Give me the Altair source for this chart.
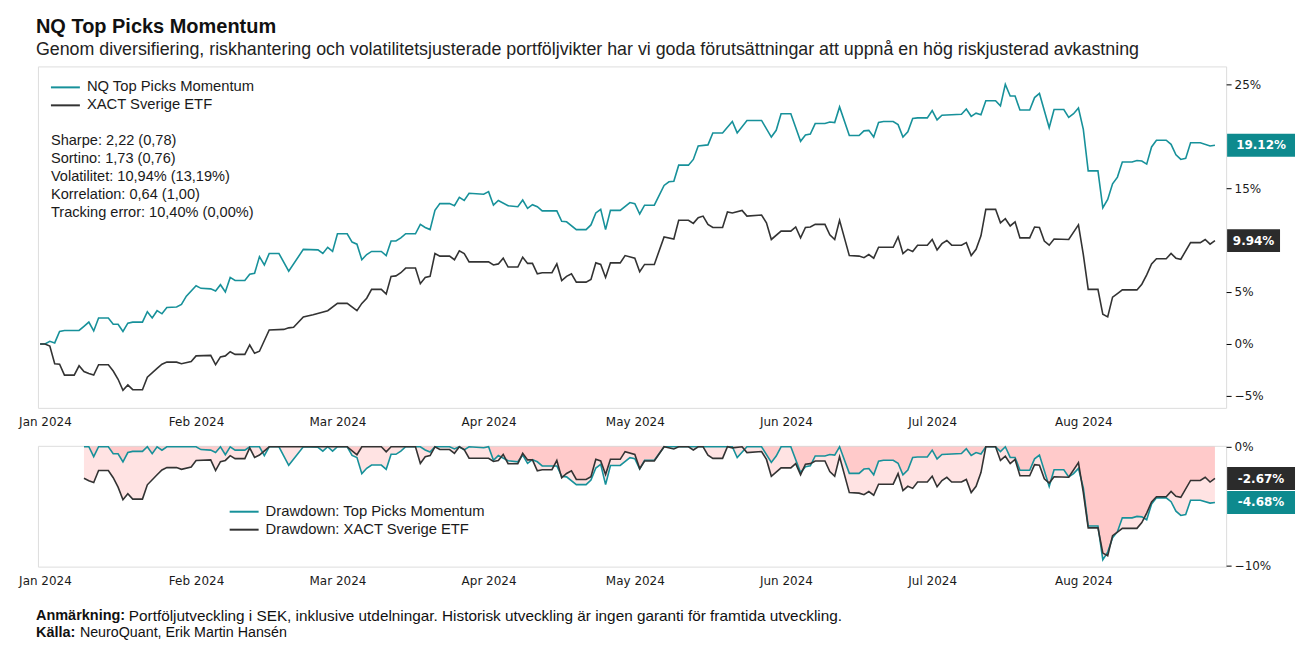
import altair as alt
import pandas as pd

# ---------------- data ----------------
TP_NAME = "NQ Top Picks Momentum"
XACT_NAME = "XACT Sverige ETF"
DD_TP_NAME = "Drawdown: Top Picks Momentum"
DD_XACT_NAME = "Drawdown: XACT Sverige ETF"

TP_DATES = ["2023-12-31", "2024-01-01", "2024-01-02", "2024-01-03", "2024-01-04", "2024-01-05", "2024-01-08", "2024-01-09", "2024-01-10", "2024-01-11", "2024-01-12", "2024-01-14", "2024-01-15", "2024-01-16", "2024-01-17", "2024-01-18", "2024-01-19", "2024-01-21", "2024-01-22", "2024-01-23", "2024-01-24", "2024-01-25", "2024-01-26", "2024-01-28", "2024-01-29", "2024-01-30", "2024-02-01", "2024-02-02", "2024-02-04", "2024-02-05", "2024-02-06", "2024-02-07", "2024-02-08", "2024-02-09", "2024-02-11", "2024-02-12", "2024-02-13", "2024-02-14", "2024-02-15", "2024-02-16", "2024-02-18", "2024-02-20", "2024-02-23", "2024-02-26", "2024-02-27", "2024-02-28", "2024-02-29", "2024-03-01", "2024-03-03", "2024-03-04", "2024-03-05", "2024-03-06", "2024-03-07", "2024-03-08", "2024-03-10", "2024-03-11", "2024-03-12", "2024-03-13", "2024-03-14", "2024-03-15", "2024-03-17", "2024-03-18", "2024-03-19", "2024-03-20", "2024-03-21", "2024-03-22", "2024-03-24", "2024-03-25", "2024-03-26", "2024-03-27", "2024-03-28", "2024-03-31", "2024-04-01", "2024-04-02", "2024-04-03", "2024-04-05", "2024-04-07", "2024-04-08", "2024-04-09", "2024-04-10", "2024-04-11", "2024-04-12", "2024-04-15", "2024-04-16", "2024-04-17", "2024-04-19", "2024-04-21", "2024-04-22", "2024-04-23", "2024-04-24", "2024-04-25", "2024-04-26", "2024-04-28", "2024-04-30", "2024-05-01", "2024-05-02", "2024-05-03", "2024-05-05", "2024-05-07", "2024-05-08", "2024-05-09", "2024-05-10", "2024-05-12", "2024-05-13", "2024-05-14", "2024-05-16", "2024-05-17", "2024-05-19", "2024-05-21", "2024-05-22", "2024-05-24", "2024-05-27", "2024-05-29", "2024-05-30", "2024-05-31", "2024-06-02", "2024-06-04", "2024-06-05", "2024-06-06", "2024-06-07", "2024-06-09", "2024-06-10", "2024-06-11", "2024-06-12", "2024-06-14", "2024-06-16", "2024-06-17", "2024-06-18", "2024-06-19", "2024-06-20", "2024-06-21", "2024-06-23", "2024-06-24", "2024-06-25", "2024-06-26", "2024-06-27", "2024-06-28", "2024-06-30", "2024-07-01", "2024-07-02", "2024-07-03", "2024-07-07", "2024-07-08", "2024-07-09", "2024-07-10", "2024-07-11", "2024-07-12", "2024-07-14", "2024-07-15", "2024-07-16", "2024-07-17", "2024-07-18", "2024-07-19", "2024-07-21", "2024-07-22", "2024-07-23", "2024-07-25", "2024-07-26", "2024-07-28", "2024-07-29", "2024-07-30", "2024-07-31", "2024-08-01", "2024-08-02", "2024-08-04", "2024-08-05", "2024-08-06", "2024-08-07", "2024-08-08", "2024-08-09", "2024-08-11", "2024-08-12", "2024-08-13", "2024-08-14", "2024-08-15", "2024-08-16", "2024-08-18", "2024-08-19", "2024-08-20", "2024-08-21", "2024-08-22", "2024-08-23", "2024-08-25", "2024-08-27", "2024-08-28"]
TP_VALUES = [0.0, 0.0, 0.25, 0.1, 1.2, 1.3, 1.3, 1.7, 2.1, 1.25, 2.5, 2.5, 1.9, 1.9, 1.2, 2.0, 2.1, 2.1, 3.1, 2.5, 3.2, 2.9, 3.5, 3.55, 3.8, 4.6, 5.6, 5.35, 5.3, 5.1, 5.7, 5.0, 6.4, 6.1, 6.1, 6.7, 6.8, 8.4, 7.6, 8.7, 8.7, 7.0, 9.1, 9.05, 8.7, 9.3, 8.9, 10.6, 10.6, 9.8, 9.6, 8.1, 8.6, 8.9, 8.9, 8.5, 9.9, 9.9, 10.2, 10.6, 10.6, 11.5, 11.2, 11.0, 12.85, 13.5, 13.5, 13.3, 14.1, 13.8, 14.5, 14.4, 14.65, 13.35, 13.8, 13.3, 13.2, 13.85, 13.05, 13.4, 13.2, 12.8, 12.8, 11.8, 11.75, 11.0, 11.0, 11.45, 12.6, 12.95, 11.0, 12.85, 12.85, 13.6, 13.5, 12.5, 13.35, 13.35, 15.25, 15.6, 15.65, 17.2, 17.2, 17.75, 19.05, 19.15, 20.3, 20.3, 21.4, 20.3, 21.5, 21.5, 19.9, 20.55, 22.15, 22.15, 19.5, 20.1, 20.2, 21.2, 21.2, 21.35, 21.3, 22.8, 20.05, 20.05, 20.5, 20.55, 19.9, 21.3, 21.4, 21.4, 21.1, 19.9, 20.4, 21.7, 21.75, 21.75, 22.45, 21.55, 22.0, 22.1, 22.6, 21.9, 22.2, 22.05, 23.4, 23.4, 22.9, 24.97, 23.85, 23.85, 22.5, 22.5, 23.7, 24.1, 20.8, 22.55, 22.55, 21.8, 22.15, 22.7, 20.65, 16.65, 16.65, 13.1, 13.9, 15.4, 16.05, 17.5, 17.5, 17.65, 17.6, 17.3, 18.95, 19.6, 19.6, 19.2, 18.2, 17.75, 17.85, 19.35, 19.35, 19.05, 19.12]

XACT_DATES = ["2023-12-31", "2024-01-01", "2024-01-02", "2024-01-03", "2024-01-04", "2024-01-05", "2024-01-07", "2024-01-08", "2024-01-09", "2024-01-10", "2024-01-11", "2024-01-12", "2024-01-14", "2024-01-15", "2024-01-16", "2024-01-17", "2024-01-18", "2024-01-19", "2024-01-21", "2024-01-22", "2024-01-24", "2024-01-25", "2024-01-26", "2024-01-28", "2024-01-29", "2024-01-31", "2024-02-01", "2024-02-04", "2024-02-05", "2024-02-06", "2024-02-07", "2024-02-08", "2024-02-09", "2024-02-11", "2024-02-12", "2024-02-13", "2024-02-14", "2024-02-16", "2024-02-19", "2024-02-20", "2024-02-21", "2024-02-23", "2024-02-25", "2024-02-28", "2024-03-01", "2024-03-03", "2024-03-05", "2024-03-06", "2024-03-07", "2024-03-08", "2024-03-10", "2024-03-11", "2024-03-12", "2024-03-13", "2024-03-14", "2024-03-15", "2024-03-17", "2024-03-18", "2024-03-19", "2024-03-20", "2024-03-21", "2024-03-22", "2024-03-24", "2024-03-25", "2024-03-26", "2024-03-27", "2024-03-28", "2024-04-01", "2024-04-02", "2024-04-03", "2024-04-04", "2024-04-05", "2024-04-07", "2024-04-08", "2024-04-09", "2024-04-10", "2024-04-11", "2024-04-12", "2024-04-14", "2024-04-15", "2024-04-16", "2024-04-17", "2024-04-18", "2024-04-19", "2024-04-21", "2024-04-22", "2024-04-23", "2024-04-24", "2024-04-25", "2024-04-26", "2024-04-28", "2024-04-29", "2024-05-01", "2024-05-02", "2024-05-03", "2024-05-05", "2024-05-07", "2024-05-09", "2024-05-10", "2024-05-12", "2024-05-13", "2024-05-14", "2024-05-15", "2024-05-16", "2024-05-17", "2024-05-19", "2024-05-20", "2024-05-21", "2024-05-23", "2024-05-24", "2024-05-27", "2024-05-28", "2024-05-29", "2024-05-31", "2024-06-02", "2024-06-03", "2024-06-04", "2024-06-05", "2024-06-06", "2024-06-07", "2024-06-09", "2024-06-10", "2024-06-11", "2024-06-12", "2024-06-14", "2024-06-16", "2024-06-17", "2024-06-18", "2024-06-19", "2024-06-20", "2024-06-23", "2024-06-24", "2024-06-25", "2024-06-26", "2024-06-27", "2024-06-28", "2024-06-30", "2024-07-01", "2024-07-02", "2024-07-03", "2024-07-04", "2024-07-05", "2024-07-07", "2024-07-08", "2024-07-09", "2024-07-10", "2024-07-11", "2024-07-12", "2024-07-14", "2024-07-15", "2024-07-16", "2024-07-17", "2024-07-18", "2024-07-19", "2024-07-21", "2024-07-22", "2024-07-23", "2024-07-24", "2024-07-25", "2024-07-26", "2024-07-29", "2024-07-31", "2024-08-01", "2024-08-02", "2024-08-04", "2024-08-05", "2024-08-06", "2024-08-07", "2024-08-08", "2024-08-09", "2024-08-12", "2024-08-13", "2024-08-14", "2024-08-15", "2024-08-16", "2024-08-18", "2024-08-19", "2024-08-20", "2024-08-21", "2024-08-23", "2024-08-25", "2024-08-26", "2024-08-27", "2024-08-28"]
XACT_VALUES = [0.0, 0.0, -0.2, -1.9, -1.95, -3.0, -3.0, -2.1, -2.65, -2.85, -3.0, -2.0, -2.0, -2.6, -3.4, -4.45, -3.95, -4.4, -4.4, -3.2, -2.35, -1.95, -1.75, -1.75, -1.9, -1.7, -1.15, -1.1, -2.0, -1.25, -1.15, -0.75, -1.0, -1.0, -0.1, -0.9, -0.7, 1.35, 1.4, 1.55, 1.6, 2.6, 2.8, 3.2, 3.9, 3.9, 3.2, 3.9, 4.4, 5.25, 5.25, 4.8, 6.5, 6.55, 6.85, 7.3, 7.3, 5.8, 6.4, 6.5, 8.7, 8.45, 8.45, 8.1, 8.95, 8.7, 7.9, 7.9, 7.6, 7.7, 8.25, 7.4, 7.4, 8.35, 7.75, 7.75, 6.75, 6.85, 6.85, 7.7, 6.1, 6.5, 6.75, 5.95, 5.95, 6.2, 7.8, 7.65, 6.4, 7.8, 7.8, 8.5, 8.25, 6.95, 7.65, 7.65, 10.3, 10.1, 11.9, 11.9, 11.6, 12.15, 12.3, 11.5, 11.2, 11.2, 12.7, 12.6, 12.85, 12.3, 12.4, 11.65, 10.05, 10.85, 10.85, 11.25, 10.2, 11.2, 11.25, 11.5, 11.5, 10.5, 10.05, 11.9, 8.5, 8.45, 8.3, 8.6, 8.25, 9.3, 9.3, 10.3, 8.7, 9.1, 8.9, 9.5, 9.5, 10.05, 9.05, 9.65, 9.95, 9.5, 9.5, 9.75, 8.5, 9.1, 10.4, 12.95, 12.95, 11.65, 12.05, 11.35, 11.75, 10.2, 10.2, 11.25, 11.2, 9.9, 9.5, 10.1, 10.05, 11.45, 8.6, 5.25, 5.25, 2.85, 2.6, 4.5, 4.85, 5.2, 5.2, 5.75, 6.65, 7.7, 8.2, 8.2, 8.7, 8.25, 8.15, 9.75, 9.75, 10.05, 9.6, 9.94]

END_RETURNS = [19.12, 9.94]      # TP, XACT (last value labels)
END_DRAWDOWNS = [-4.68, -2.67]   # TP, XACT
Y_TICKS = [-5, 0, 5, 15, 25]
DD_TICKS = [-10, 0]

STATS = ["Sharpe: 2,22 (0,78)", "Sortino: 1,73 (0,76)", "Volatilitet: 10,94% (13,19%)",
         "Korrelation: 0,64 (1,00)", "Tracking error: 10,40% (0,00%)"]
TITLE = "NQ Top Picks Momentum"
SUBTITLE = ("Genom diversifiering, riskhantering och volatilitetsjusterade portföljvikter har vi goda "
            "förutsättningar att uppnå en hög riskjusterad avkastning")
NOTE_BOLD, NOTE_TEXT = "Anmärkning:", "Portföljutveckling i SEK, inklusive utdelningar. Historisk utveckling är ingen garanti för framtida utveckling."
SRC_BOLD, SRC_TEXT = "Källa:", "NeuroQuant, Erik Martin Hansén"

# ---------------- styling ----------------
TEAL = "#17919a"
TEAL_BOX = "#0e8a8e"
DARK = "#333333"
DARK_BOX = "#2b2b2b"
TXT = "#1a1a1a"
FONT = "Liberation Sans"
AXFONT = "DejaVu Sans"
W, H1, H2 = 1190, 342, 121

df = pd.concat([
    pd.DataFrame({"date": pd.to_datetime(TP_DATES), "value": TP_VALUES, "series": TP_NAME}),
    pd.DataFrame({"date": pd.to_datetime(XACT_DATES), "value": XACT_VALUES, "series": XACT_NAME}),
], ignore_index=True)

x_scale = alt.Scale(domain=[alt.DateTime(year=2023, month=12, date=30, hours=13, minutes=30),
                            alt.DateTime(year=2024, month=8, date=30, hours=7)])
x_axis = alt.Axis(format="%b %Y", tickCount={"interval": "month", "step": 1}, ticks=False,
                  domain=False, grid=False, labelPadding=9, labelFont=AXFONT, labelFontSize=12,
                  labelColor=TXT, labelFlush=False, labelOverlap=False)
x_enc = alt.X("date:T", scale=x_scale, axis=x_axis, title=None)
color_enc = alt.Color("series:N", scale=alt.Scale(domain=[TP_NAME, XACT_NAME], range=[TEAL, DARK]),
                      legend=None)

label_expr = "replace(format(datum.value, 'd'), '-', '\u2212') + '%'"
y_top = alt.Y("value:Q", title=None, scale=alt.Scale(domain=[-6.15, 26.7], nice=False, zero=False),
              axis=alt.Axis(orient="right", values=Y_TICKS, labelExpr=label_expr, tickSize=5,
                            tickColor="#000", domain=False, grid=False, labelPadding=3,
                            labelFont=AXFONT, labelFontSize=12, labelColor=TXT))
y_bot = alt.Y("dd:Q", title=None, scale=alt.Scale(domain=[-10.08, 0.08], nice=False, zero=False),
              axis=alt.Axis(orient="right", values=DD_TICKS, labelExpr=label_expr, tickSize=5,
                            tickColor="#000", domain=False, grid=False, labelPadding=3,
                            labelFont=AXFONT, labelFontSize=12, labelColor=TXT))


def one_row(**kw):
    return pd.DataFrame({k: [v] for k, v in kw.items()})


def text_at(text, x, y, size, weight="normal", color=TXT, font=FONT, align="left", baseline="middle"):
    return alt.Chart(one_row(t=text)).mark_text(
        font=font, fontSize=size, fontWeight=weight, color=color, align=align, baseline=baseline
    ).encode(x=alt.value(x), y=alt.value(y), text="t:N")


def legend_entry(label, color, x0, y0):
    d = one_row(t=label)
    rule = alt.Chart(d).mark_rule(color=color, strokeWidth=2).encode(
        x=alt.value(x0), x2=alt.value(x0 + 29), y=alt.value(y0))
    txt = alt.Chart(d).mark_text(font=FONT, fontSize=14.8, color=TXT, align="left", baseline="middle").encode(
        x=alt.value(x0 + 36), y=alt.value(y0), text="t:N")
    return [rule, txt]


def end_box(value, color, w, y_enc, h=23):
    d = pd.DataFrame({y_enc.shorthand.split(":")[0]: [value], "label": [f"{value:.2f}%"]})
    r = h / w
    path = f"M-1,{-r:.4f}L1,{-r:.4f}L1,{r:.4f}L-1,{r:.4f}Z"
    cx = W + 1 + w / 2
    box = alt.Chart(d).mark_point(shape=path, size=w * w, filled=True, opacity=1, color=color,
                                  strokeWidth=0).encode(x=alt.value(cx), y=y_enc)
    txt = alt.Chart(d).mark_text(font=AXFONT, fontSize=12, fontWeight="bold", color="white",
                                 align="center", baseline="middle").encode(
        x=alt.value(cx), y=y_enc, text="label:N")
    return [box, txt]


# ---------------- top panel ----------------
lines_top = alt.Chart(df).mark_line(strokeWidth=1.6).encode(x=x_enc, y=y_top, color=color_enc)
stats = alt.Chart(one_row(a=1)).mark_text(font=FONT, fontSize=14.6, color=TXT, align="left",
                                          baseline="top", lineHeight=18).encode(
    x=alt.value(13), y=alt.value(67), text=alt.value(STATS))

top = alt.layer(
    lines_top,
    *legend_entry(TP_NAME, TEAL, 13, 21),
    *legend_entry(XACT_NAME, DARK, 13, 39),
    stats,
    *end_box(END_RETURNS[0], TEAL_BOX, 68, y_top),
    *end_box(END_RETURNS[1], DARK_BOX, 53, y_top),
    text_at(TITLE, -2, -33, 20, weight="bold", color="#111", baseline="alphabetic"),
    text_at(SUBTITLE, -2, -11, 17.85, color="#222", baseline="alphabetic"),
).properties(width=W, height=H1)

# ---------------- bottom panel (drawdowns) ----------------
dd_base = alt.Chart(df).transform_window(
    peak="max(value)", frame=[None, 0], groupby=["series"], sort=[alt.SortField("date", order="ascending")]
).transform_calculate(
    dd="((1 + datum.value / 100) / (1 + datum.peak / 100) - 1) * 100"
).transform_filter(
    alt.FieldGTEPredicate(field="date", gte=alt.DateTime(year=2024, month=1, date=9))
)

area_tp = dd_base.transform_filter(alt.datum.series == TP_NAME).mark_area(
    color="#ff0000", opacity=0.11).encode(x=x_enc, y=y_bot)
area_xact = dd_base.transform_filter(alt.datum.series == XACT_NAME).mark_area(
    color="#ff0000", opacity=0.11).encode(x=x_enc, y=y_bot)
lines_bot = dd_base.mark_line(strokeWidth=1.6).encode(x=x_enc, y=y_bot, color=color_enc)

bottom = alt.layer(
    area_tp, area_xact, lines_bot,
    *legend_entry(DD_TP_NAME, TEAL, 192, 66),
    *legend_entry(DD_XACT_NAME, DARK, 192, 84),
    *end_box(END_DRAWDOWNS[1], DARK_BOX, 68, y_bot),
    *end_box(END_DRAWDOWNS[0], TEAL_BOX, 68, y_bot),
    text_at(NOTE_BOLD, -2, 170, 14.5, weight="bold", color="#111"),
    text_at(NOTE_TEXT, 91, 170, 15.35, color="#111"),
    text_at(SRC_BOLD, -2, 187, 14.5, weight="bold", color="#111"),
    text_at(SRC_TEXT, 42, 187, 14.3, color="#111"),
).properties(width=W, height=H2)

chart = alt.vconcat(top, bottom, spacing=38, bounds="flush").resolve_scale(
    y="independent"
).properties(
    padding={"left": 10, "top": 8, "right": 5, "bottom": 5}
).configure_view(stroke="#222", strokeWidth=1.2).configure(background="white")

chart.save("out.html", embed_options={"renderer": "svg", "actions": False})
